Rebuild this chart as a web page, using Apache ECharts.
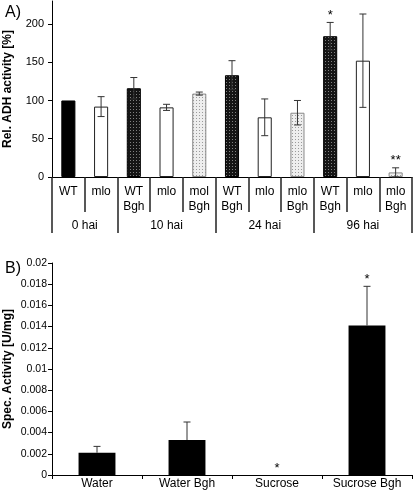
<!DOCTYPE html>
<html><head><meta charset="utf-8">
<script src="https://cdn.jsdelivr.net/npm/echarts@6/dist/echarts.min.js"></script>
<style>html,body{margin:0;padding:0;background:#fff}#c{width:413px;height:498px}</style>
</head><body><div id="c"></div>
<script>
// ---- Panel A data ----
const genotypeA = ['WT','mlo','WT','mlo','mol','WT','mlo','mlo','WT','mlo','mlo'];
const bghA = [false,false,true,false,true,true,false,true,true,false,true];
const groupLabelsA = ['0 hai','10 hai','24 hai','96 hai'];
const groupSizesA = [2,3,3,3];
const valuesA = [100,92,116,91,109,133,78,84,184,152,6];
const errorsA = [0,13,14,4,2,19,24,16,18,61,6];
const starsA = ['','','','','','','','','*','','**'];

// ---- Panel B data ----
const categoriesB = ['Water','Water Bgh','Sucrose','Sucrose Bgh'];
const valuesB = [0.0021,0.0033,0,0.0141];
const errorsB = [0.0006,0.0017,0,0.0037];
const starsB = ['','','*','*'];

const FONT = 'Liberation Sans, Arial, sans-serif';

function pattern(bg, dot, step) {
  const c = document.createElement('canvas');
  c.width = step; c.height = step;
  const g = c.getContext('2d');
  g.fillStyle = bg; g.fillRect(0,0,step,step);
  g.fillStyle = dot; g.fillRect(1,1,1,1);
  return {image: c, repeat: 'repeat'};
}
const darkFill = pattern('#151515', '#808080', 3);
const lightFill = pattern('#eeeeee', '#9a9a9a', 3);

const labelsA = genotypeA.map((g,i) => g + (bghA[i] ? '\nBgh' : ''));
function styleA(i) {
  const wt = genotypeA[i] === 'WT';
  if (wt && !bghA[i]) return {color:'#000', borderColor:'#000', borderWidth:1};
  if (!wt && !bghA[i]) return {color:'#fff', borderColor:'#222', borderWidth:1};
  if (wt && bghA[i]) return {color:darkFill, borderColor:'#000', borderWidth:1};
  return {color:lightFill, borderColor:'#888', borderWidth:1};
}

// group axis (half-step points)
const nCat = genotypeA.length;
const bounds = [0];
groupSizesA.forEach(s => bounds.push(bounds[bounds.length-1] + s));
const halfPts = [];
for (let k = 0; k <= 2*nCat; k++) halfPts.push('p' + k);
const groupLabelAt = {};
groupLabelsA.forEach((g,k) => { groupLabelAt[bounds[k] + bounds[k+1]] = g; });
const groupTickAt = new Set(bounds.map(b => 2*b));

function makeErr(stars, twoSided) {
  return function(params, api) {
    const i = api.value(0), lo = api.value(1), hi = api.value(2);
    const ch = [];
    const top = api.coord([i, hi]);
    const cw = 3.5;
    if (hi > lo) {
      const bot = api.coord([i, lo]);
      const ls = {stroke:'#333', lineWidth:1};
      ch.push({type:'line', shape:{x1:top[0],y1:top[1],x2:bot[0],y2:bot[1]}, style:ls});
      ch.push({type:'line', shape:{x1:top[0]-cw,y1:top[1],x2:top[0]+cw,y2:top[1]}, style:ls});
      if (twoSided) ch.push({type:'line', shape:{x1:bot[0]-cw,y1:bot[1],x2:bot[0]+cw,y2:bot[1]}, style:ls});
    }
    const s = stars[params.dataIndex];
    if (s) ch.push({type:'text', style:{text:s, x:top[0], y:top[1]-7, align:'center', verticalAlign:'middle', font:'13px ' + FONT, fill:'#000'}});
    return {type:'group', children: ch};
  };
}

const axisLine = {show:true, lineStyle:{color:'#000', width:1}};
const chart = echarts.init(document.getElementById('c'), null, {renderer:'canvas'});
chart.setOption({
  animation: false,
  backgroundColor: '#fff',
  title: [
    {text:'A)', left:0, top:0, textStyle:{fontFamily:FONT, fontSize:16, fontWeight:'normal', color:'#000'}},
    {text:'B)', left:0, top:256, textStyle:{fontFamily:FONT, fontSize:16, fontWeight:'normal', color:'#000'}}
  ],
  grid: [
    {left:52, right:1, top:1, height:176, outerBoundsMode:'none', containLabel:false},
    {left:52, right:1, top:263, height:212, outerBoundsMode:'none', containLabel:false}
  ],
  xAxis: [
    {type:'category', gridIndex:0, position:'bottom', data:labelsA, boundaryGap:true,
     axisLine: axisLine,
     axisTick:{show:true, interval:0, length:35, lineStyle:{color:'#222', width:1.5}},
     axisLabel:{interval:0, margin:7, fontFamily:FONT, fontSize:12, lineHeight:15, color:'#000'}},
    {type:'category', gridIndex:0, position:'bottom', offset:0, data:halfPts, boundaryGap:false,
     axisLine:{show:false},
     axisTick:{show:true, length:56, interval:(idx) => groupTickAt.has(idx), lineStyle:{color:'#222', width:1.5}},
     axisLabel:{interval:0, margin:41, fontFamily:FONT, fontSize:12, lineHeight:15, color:'#000',
       formatter:(v, idx) => groupLabelAt[idx] || ''}},
    {type:'category', gridIndex:1, position:'bottom', data:categoriesB, boundaryGap:true,
     axisLine: axisLine,
     axisTick:{show:true, interval:0, length:4, lineStyle:{color:'#000'}},
     axisLabel:{interval:0, margin:3, fontFamily:FONT, fontSize:12, color:'#000'}}
  ],
  yAxis: [
    {type:'value', gridIndex:0, min:0, max:230, interval:50,
     name:'Rel. ADH activity [%]', nameLocation:'middle', nameGap:38, nameMoveOverlap:false,
     nameTextStyle:{fontFamily:FONT, fontSize:12, fontWeight:'bold', color:'#000'},
     axisLine: axisLine, splitLine:{show:false},
     axisTick:{show:true, length:4, lineStyle:{color:'#000'}},
     axisLabel:{margin:8, fontFamily:FONT, fontSize:11, color:'#000', showMaxLabel:false}},
    {type:'value', gridIndex:1, min:0, max:0.02, interval:0.002,
     name:'Spec. Activity [U/mg]', nameLocation:'middle', nameGap:38, nameMoveOverlap:false,
     nameTextStyle:{fontFamily:FONT, fontSize:12, fontWeight:'bold', color:'#000'},
     axisLine: axisLine, splitLine:{show:false},
     axisTick:{show:true, length:4, lineStyle:{color:'#000'}},
     axisLabel:{margin:5, fontFamily:FONT, fontSize:10.5, color:'#000'}}
  ],
  series: [
    {type:'bar', xAxisIndex:0, yAxisIndex:0, barWidth:'43%',
     data: valuesA.map((v,i) => ({value:v, itemStyle:styleA(i)}))},
    {type:'custom', xAxisIndex:0, yAxisIndex:0, z:5,
     encode:{x:0, y:[1,2]},
     renderItem: makeErr(starsA, true),
     data: valuesA.map((v,i) => [i, v - errorsA[i], v + errorsA[i]])},
    {type:'bar', xAxisIndex:2, yAxisIndex:1, barWidth:'41%',
     itemStyle:{color:'#000'},
     data: valuesB},
    {type:'custom', xAxisIndex:2, yAxisIndex:1, z:5,
     encode:{x:0, y:[1,2]},
     renderItem: makeErr(starsB, false),
     data: valuesB.map((v,i) => [i, v, v + errorsB[i]])}
  ]
});
</script>
</body></html>
